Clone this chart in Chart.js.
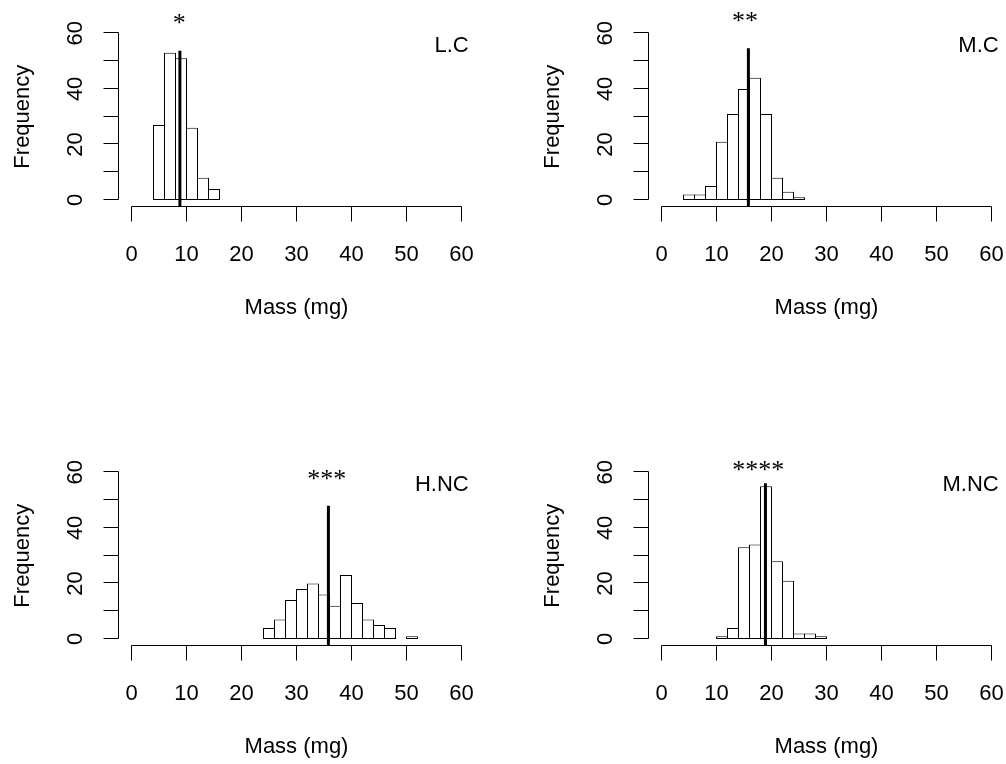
<!DOCTYPE html>
<html>
<head>
<meta charset="utf-8">
<script src="https://cdn.jsdelivr.net/npm/chart.js@4.4.1/dist/chart.umd.min.js"></script>
<style>
  html, body { margin: 0; padding: 0; background: #fff; }
  body { width: 1006px; height: 764px; position: relative; overflow: hidden; }
  canvas { position: absolute; }
</style>
</head>
<body>
<canvas id="lc" width="530" height="439" style="left:0;top:0"></canvas>
<canvas id="mc" width="476" height="439" style="left:530px;top:0"></canvas>
<canvas id="hnc" width="530" height="325" style="left:0;top:439px"></canvas>
<canvas id="mnc" width="476" height="325" style="left:530px;top:439px"></canvas>
<script>
// histogram bins (left edge of each 2 mg bin) and frequencies
const lcBins = [4, 6, 8, 10, 12, 14];
const lcCounts = [27, 53, 51, 26, 8, 4];
const mcBins = [4, 6, 8, 10, 12, 14, 16, 18, 20, 22, 24];
const mcCounts = [2, 2, 5, 21, 31, 40, 44, 31, 8, 3, 1];
const hncBins = [24, 26, 28, 30, 32, 34, 36, 38, 40, 42, 44, 46, 48, 50];
const hncCounts = [4, 7, 14, 18, 20, 16, 12, 23, 13, 7, 5, 4, 0, 1];
const mncBins = [10, 12, 14, 16, 18, 20, 22, 24, 26, 28];
const mncCounts = [1, 4, 33, 34, 55, 28, 21, 2, 2, 1];
const binWidth = 2;

const panelTags = ['L.C', 'M.C', 'H.NC', 'M.NC'];
const panelStars = ['*', '**', '***', '****'];
const meanMass = [8.8, 15.8, 35.8, 18.9];      // thick vertical line
const meanLineTop = [53.7, 54.6, 48, 56.1];
const starX = [8.7, 15.2, 35.5, 17.6];
const starY = [60.9, 61.5, 54.8, 58.1];

const xTicks = [0, 10, 20, 30, 40, 50, 60];
const yTicks = [0, 10, 20, 30, 40, 50, 60];
const yTickLabels = [0, 20, 40, 60];
const xTitle = 'Mass (mg)';
const yTitle = 'Frequency';

// R pads the 0-60 range by 4% on each side
const AXIS_MIN = -2.4;
const AXIS_MAX = 62.4;
const SANS = '22px "Liberation Sans", Arial, sans-serif';
const SERIF = '26px "Liberation Serif", "Times New Roman", serif';

// draws base-R style axes, titles, the tag and the stars
const rAxes = {
  id: 'rAxes',
  afterDraw(chart) {
    const { ctx, chartArea } = chart;
    const x = chart.scales.x, y = chart.scales.y;
    const o = chart.options.plugins.rAxes;
    const yb = Math.floor(chartArea.bottom) + 0.5;
    const xl = Math.floor(chartArea.left) + 0.5;
    const tick = 15;
    const py = v => Math.round(y.getPixelForValue(v)) - 0.5;

    ctx.save();
    ctx.strokeStyle = '#000';
    ctx.lineWidth = 1;
    ctx.beginPath();
    ctx.moveTo(x.getPixelForValue(xTicks[0]), yb);
    ctx.lineTo(x.getPixelForValue(xTicks[xTicks.length - 1]), yb);
    xTicks.forEach(v => {
      const px = x.getPixelForValue(v);
      ctx.moveTo(px, yb);
      ctx.lineTo(px, yb + tick);
    });
    ctx.moveTo(xl, py(yTicks[0]));
    ctx.lineTo(xl, py(yTicks[yTicks.length - 1]));
    yTicks.forEach(v => {
      ctx.moveTo(xl, py(v));
      ctx.lineTo(xl - tick, py(v));
    });
    ctx.stroke();

    ctx.fillStyle = '#000';
    ctx.font = SANS;
    ctx.textBaseline = 'alphabetic';
    ctx.textAlign = 'center';
    xTicks.forEach(v => ctx.fillText(String(v), x.getPixelForValue(v), 261));
    ctx.fillText(xTitle, x.getPixelForValue((xTicks[0] + xTicks[xTicks.length - 1]) / 2), 314);

    yTickLabels.forEach(v => {
      ctx.save();
      ctx.translate(82, y.getPixelForValue(v));
      ctx.rotate(-Math.PI / 2);
      ctx.fillText(String(v), 0, 0);
      ctx.restore();
    });
    ctx.save();
    ctx.translate(29, y.getPixelForValue(30));
    ctx.rotate(-Math.PI / 2);
    ctx.fillText(yTitle, 0, 0);
    ctx.restore();

    ctx.textAlign = 'right';
    ctx.fillText(o.tag, chartArea.right - 6, 52);

    ctx.font = SERIF;
    ctx.textAlign = 'center';
    ctx.fillText(o.stars, x.getPixelForValue(o.starX), y.getPixelForValue(o.starY));
    ctx.restore();
  }
};

function makePanel(id, bins, counts, i) {
  const el = document.getElementById(id);
  const W = el.width, H = el.height;
  return new Chart(el, {
    type: 'bar',
    data: {
      datasets: [
        {
          type: 'line',
          data: [{ x: meanMass[i], y: AXIS_MIN }, { x: meanMass[i], y: meanLineTop[i] }],
          borderColor: '#000', borderWidth: 3, pointRadius: 0, order: 0
        },
        {
          data: bins.map((b, k) => ({ x: b + binWidth / 2, y: counts[k] })),
          backgroundColor: '#fff', borderColor: '#000', borderWidth: 1,
          borderSkipped: false, barPercentage: 12 / 11, categoryPercentage: 1, order: 1
        }
      ]
    },
    options: {
      responsive: false,
      animation: false,
      devicePixelRatio: 1,
      events: [],
      layout: { padding: { left: 118.3, right: W - 474.7, top: 26.667, bottom: H - 206.667 } },
      scales: {
        x: { type: 'linear', display: false, min: AXIS_MIN, max: AXIS_MAX, offset: false, ticks: { stepSize: 10 } },
        y: { display: false, min: AXIS_MIN, max: AXIS_MAX }
      },
      plugins: {
        legend: { display: false },
        tooltip: { enabled: false },
        rAxes: { tag: panelTags[i], stars: panelStars[i], starX: starX[i], starY: starY[i] }
      }
    },
    plugins: [rAxes]
  });
}

makePanel('lc', lcBins, lcCounts, 0);
makePanel('mc', mcBins, mcCounts, 1);
makePanel('hnc', hncBins, hncCounts, 2);
makePanel('mnc', mncBins, mncCounts, 3);
</script>
</body>
</html>
